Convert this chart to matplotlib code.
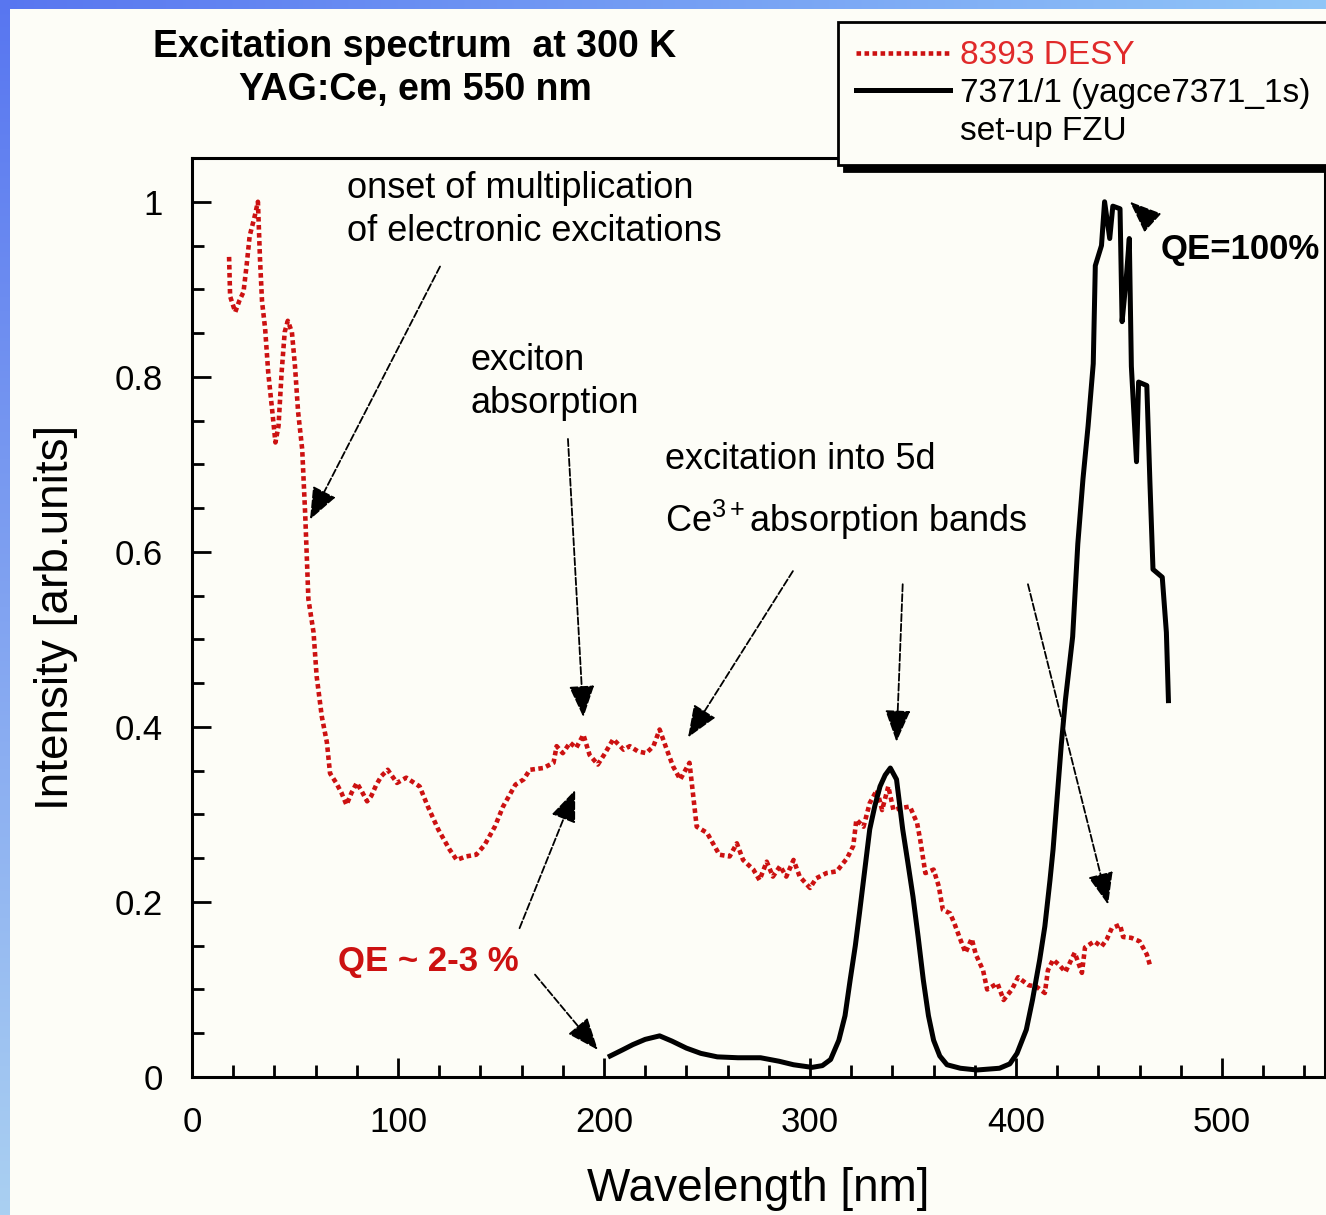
import numpy as np
import matplotlib
matplotlib.use("Agg")
import matplotlib.pyplot as plt
from matplotlib.lines import Line2D
from matplotlib.ticker import MultipleLocator

plt.rcParams['font.family'] = ['Liberation Sans', 'DejaVu Sans']
plt.rcParams['mathtext.fontset'] = 'custom'
plt.rcParams['mathtext.rm'] = 'Liberation Sans'
plt.rcParams['mathtext.it'] = 'Liberation Sans:italic'
plt.rcParams['mathtext.bf'] = 'Liberation Sans:bold'

# 8393 DESY, red dotted curve
desy_nm = [18, 18.5, 21, 23, 25, 26.5, 28, 30.5, 32, 33, 34, 35.5, 37, 39, 40.5, 42, 43.5, 45,
           46.5, 48.5, 50, 51.5, 53.5, 55, 56.5, 59, 60.5, 63, 65.5, 67, 70, 72.5, 75, 77.5, 80,
           82.5, 85, 87, 89.5, 92, 95, 99.5, 104, 110.5, 114.5, 119.5, 125, 128.5, 133, 138,
           142, 147, 151, 157, 161, 164, 170.5, 175.5, 177, 180, 183.5, 186.5, 190, 193, 197,
           200, 204.5, 209.5, 212.5, 216.5, 220.5, 224, 227, 230.5, 233.5, 237, 241.5, 243.5,
           245, 250, 256, 261, 264.5, 267.5, 272.5, 275.5, 279, 282, 285.5, 288.5, 292, 295,
           300, 303, 308, 313, 318, 321, 322.5, 326, 329, 332.5, 335, 338, 340.5, 343.5, 348.5,
           352, 353.5, 356, 360, 362.5, 364.5, 368, 370, 373, 375.5, 378.5, 380.5, 384, 386,
           391, 394, 398, 401, 406, 410, 414, 415.5, 418, 421, 424, 428.5, 432, 433.5, 438,
           441.5, 444, 446.5, 450.5, 452, 456, 460, 463.5, 465]
desy_int = [0.937, 0.892, 0.874, 0.887, 0.897, 0.927, 0.961, 0.984, 1.0, 0.935, 0.886, 0.855,
            0.805, 0.76, 0.725, 0.744, 0.805, 0.851, 0.864, 0.851, 0.812, 0.76, 0.717, 0.64,
            0.546, 0.508, 0.458, 0.412, 0.382, 0.347, 0.336, 0.325, 0.311, 0.325, 0.336, 0.326,
            0.315, 0.321, 0.334, 0.344, 0.351, 0.336, 0.342, 0.332, 0.309, 0.283, 0.26, 0.248,
            0.252, 0.254, 0.265, 0.286, 0.309, 0.334, 0.34, 0.351, 0.353, 0.359, 0.378, 0.37,
            0.382, 0.376, 0.391, 0.368, 0.357, 0.368, 0.386, 0.374, 0.378, 0.372, 0.37, 0.378,
            0.397, 0.374, 0.355, 0.34, 0.359, 0.317, 0.286, 0.279, 0.254, 0.252, 0.267, 0.248,
            0.237, 0.225, 0.246, 0.229, 0.241, 0.229, 0.248, 0.229, 0.216, 0.227, 0.233, 0.235,
            0.25, 0.264, 0.294, 0.286, 0.313, 0.328, 0.305, 0.332, 0.305, 0.307, 0.309, 0.29,
            0.271, 0.233, 0.237, 0.218, 0.191, 0.187, 0.176, 0.157, 0.142, 0.158, 0.14, 0.122,
            0.1, 0.107, 0.088, 0.1, 0.114, 0.105, 0.103, 0.096, 0.122, 0.134, 0.128, 0.12,
            0.142, 0.119, 0.148, 0.155, 0.149, 0.157, 0.17, 0.174, 0.16, 0.159, 0.155, 0.14,
            0.128]

# 7371/1 (yagce7371_1s), set-up FZU, black curve
fzu_nm = [203, 209, 214, 220, 227, 233, 240, 247, 255, 265, 276, 285, 292, 301, 306, 310, 314,
          317, 319.5, 322, 324, 326.5, 329, 331.5, 334, 336.5, 339, 342, 345, 347.5, 350,
          352.5, 355, 357.5, 360, 363, 366.5, 373, 381, 392, 397, 400.5, 405, 408, 411.5, 414,
          416.5, 418, 420, 422, 424, 427.5, 430, 432.5, 435, 437.5, 438.5, 441.5, 443, 445.5,
          447, 450.5, 451.5, 453.5, 455, 456, 458.5, 459.5, 463.5, 465, 466.5, 471, 473, 474]
fzu_int = [0.024, 0.031, 0.037, 0.043, 0.047, 0.041, 0.033, 0.027, 0.023, 0.022, 0.022, 0.018,
           0.014, 0.011, 0.013, 0.02, 0.042, 0.07, 0.111, 0.15, 0.187, 0.235, 0.283, 0.31,
           0.332, 0.345, 0.353, 0.34, 0.283, 0.245, 0.206, 0.16, 0.111, 0.07, 0.042, 0.024,
           0.014, 0.01, 0.008, 0.01, 0.015, 0.027, 0.054, 0.088, 0.134, 0.172, 0.225, 0.26,
           0.32, 0.38, 0.431, 0.503, 0.609, 0.683, 0.744, 0.815, 0.927, 0.95, 1.0, 0.958,
           0.995, 0.992, 0.863, 0.912, 0.958, 0.812, 0.703, 0.794, 0.79, 0.68, 0.58, 0.571,
           0.508, 0.43]

x_ticks = [0, 100, 200, 300, 400, 500]
y_ticks = [0, 0.2, 0.4, 0.6, 0.8, 1.0]
y_ticklabels = ['0', '0.2', '0.4', '0.6', '0.8', '1']

BG = '#fdfdf7'
RED = '#cc1111'
W, H = 1326, 1215

fig = plt.figure(figsize=(W / 100, H / 100), dpi=100, facecolor=BG)

# blue gradient strips on the top and left edges of the slide
bg = fig.add_axes([0, 0, 1, 1], zorder=-10)
img = np.ones((H, W, 3)) * np.array([253, 253, 247]) / 255
c_dark = np.array([88, 118, 240]) / 255
c_top = np.array([145, 198, 248]) / 255
c_left = np.array([170, 208, 242]) / 255
tx = np.linspace(0, 1, W)[:, None]
img[:9, :, :] = (c_dark * (1 - tx) + c_top * tx)[None, :, :]
ty = np.linspace(0, 1, H)[:, None]
img[:, :10, :] = (c_dark * (1 - ty) + c_left * ty)[:, None, :]
bg.imshow(img, aspect='auto', interpolation='nearest')
bg.axis('off')

ax = fig.add_axes([192 / W, 1 - 1077 / H, (1325 - 192) / W, (1077 - 158) / H], facecolor=BG)

l_desy, = ax.plot(desy_nm, desy_int, color=RED, lw=3.3, ls=(0, (1, 0.75)),
                  dash_capstyle='butt')
l_fzu, = ax.plot(fzu_nm, fzu_int, color='black', lw=3.6)

ax.set_xlim(0, 550)
ax.set_ylim(0, 1.05)
ax.set_xticks(x_ticks)
ax.set_yticks(y_ticks)
ax.set_yticklabels(y_ticklabels)
ax.xaxis.set_minor_locator(MultipleLocator(20))
ax.yaxis.set_minor_locator(MultipleLocator(0.05))
ax.tick_params(which='both', direction='in', width=2, colors='black', labelsize=25, pad=21)
ax.tick_params(which='major', length=14)
ax.tick_params(which='minor', length=8.5)
for sp in ax.spines.values():
    sp.set_linewidth(2.2)

ax.set_xlabel('Wavelength [nm]', fontsize=33)
ax.set_ylabel('Intensity [arb.units]', fontsize=33)
ax.xaxis.set_label_coords(0.5, -0.098)
ax.yaxis.set_label_coords(-0.101, 0.5)

fig.text(415 / W, 1 - 68.5 / H, 'Excitation spectrum  at 300 K\nYAG:Ce, em 550 nm',
         ha='center', va='center', fontsize=27, fontweight='bold', linespacing=1.25)

blank = Line2D([], [], color='none')
leg = ax.legend([l_desy, l_fzu, blank], ['8393 DESY', '7371/1 (yagce7371_1s)', 'set-up FZU'],
                loc='upper left', bbox_to_anchor=(838 / W, 1 - 22 / H),
                bbox_transform=fig.transFigure, fontsize=24, fancybox=False,
                shadow={'ox': 4.5, 'oy': -4.5, 'color': 'black', 'alpha': 1},
                edgecolor='black', facecolor=BG, framealpha=1, handlelength=2.8,
                handletextpad=0.3, borderpad=0.55, labelspacing=0.2, borderaxespad=0,
                labelcolor=['#e02a2a', 'black', 'black'])
leg.get_frame().set_linewidth(2)

arrow = dict(arrowstyle='-|>,head_length=2.0,head_width=0.8', color='black', lw=1.3,
             ls=(0, (4, 1.5)), shrinkA=0, shrinkB=0)

ax.text(75.2, 0.991, 'onset of multiplication\nof electronic excitations', fontsize=26,
        ha='left', va='center', linespacing=1.3)
ax.annotate('', xy=(57.3, 0.637), xytext=(120.4, 0.926), arrowprops=arrow)

ax.text(135, 0.794, 'exciton\nabsorption', fontsize=26, ha='left', va='center',
        linespacing=1.3)
ax.annotate('', xy=(190, 0.411), xytext=(182.5, 0.729), arrowprops=arrow)

ax.text(229.6, 0.705, 'excitation into 5d', fontsize=26, ha='left', va='center')
ax.text(229.6, 0.636, 'Ce$^{3+}$absorption bands', fontsize=26, ha='left', va='center')
ax.annotate('', xy=(240.8, 0.388), xytext=(291.7, 0.578), arrowprops=arrow)
ax.annotate('', xy=(342, 0.383), xytext=(345, 0.563), arrowprops=arrow)
ax.annotate('', xy=(444.7, 0.197), xytext=(405.8, 0.563), arrowprops=arrow)

ax.text(470, 0.946, 'QE=100%', fontsize=25, fontweight='bold', ha='left', va='center',
        clip_on=False)
ax.annotate('', xy=(455.3, 1.0), xytext=(465.5, 0.978), arrowprops=arrow)

ax.text(70.9, 0.1316, 'QE ~ 2-3 %', fontsize=25, fontweight='bold', color=RED,
        ha='left', va='center')
ax.annotate('', xy=(186, 0.328), xytext=(159, 0.17), arrowprops=arrow)
ax.annotate('', xy=(197, 0.031), xytext=(166.5, 0.117), arrowprops=arrow)

fig.savefig('out.png', dpi=100, facecolor=BG)
